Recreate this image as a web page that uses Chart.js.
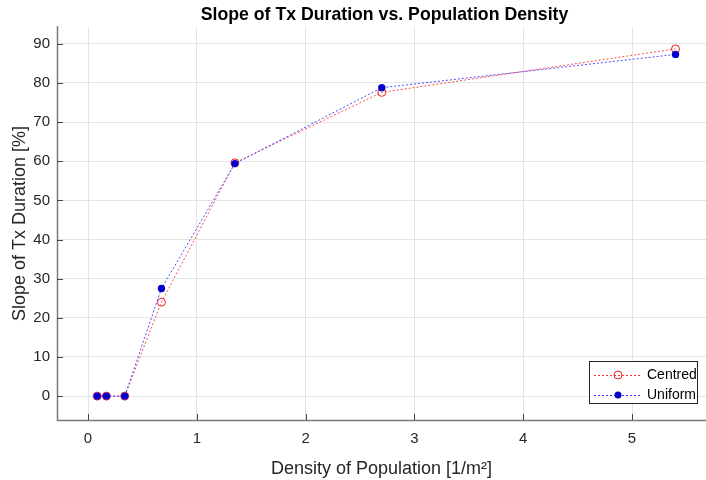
<!DOCTYPE html>
<html>
<head>
<meta charset="utf-8">
<script src="https://cdn.jsdelivr.net/npm/chart.js@4"></script>
<style>
    html, body { margin: 0; padding: 0; background: #ffffff; }
    #contenedor { width: 706px; height: 480px; }
</style>
</head>
<body>
<div id="contenedor"><canvas id="grafico" width="706" height="480"></canvas></div>
<script>
// densidad de poblacion (1/m^2)
const densidades = [0.084375, 0.16875, 0.3375, 0.675, 1.35, 2.7, 5.4];
const pendienteCentrado = [0, 0, 0, 24.0, 59.6, 77.6, 88.7];
const pendienteUniforme = [0, 0, 0, 27.5, 59.4, 78.8, 87.3];
const ticksX = [0, 1, 2, 3, 4, 5];
const ticksY = [0, 10, 20, 30, 40, 50, 60, 70, 80, 90];

const titulo = "Slope of Tx Duration vs. Population Density";
const fuente = "'Liberation Sans', Arial, sans-serif";
const colorEje = "#7a7a7a";

function puntos(valores) {
    return densidades.map((x, i) => ({ x: x, y: valores[i] }));
}

// titulo, marcas interiores y leyenda con recuadro
const extras = {
    id: "extras",
    afterDraw(chart) {
        const ctx = chart.ctx;
        const area = chart.chartArea;
        const sx = chart.scales.x;
        const sy = chart.scales.y;

        ctx.save();
        ctx.fillStyle = "#000000";
        ctx.font = "bold 17.7px " + fuente;
        ctx.textAlign = "center";
        ctx.textBaseline = "middle";
        ctx.fillText(titulo, (area.left + area.right) / 2 + 3, 15);

        ctx.strokeStyle = colorEje;
        ctx.lineWidth = 1.5;
        ctx.beginPath();
        ctx.moveTo(area.left + 0.5, area.top - 1);
        ctx.lineTo(area.left + 0.5, area.bottom + 0.5);
        ctx.lineTo(area.right, area.bottom + 0.5);
        ctx.stroke();

        ctx.strokeStyle = "#444444";
        ctx.lineWidth = 1;
        ctx.beginPath();
        ticksX.forEach(v => {
            const px = Math.round(sx.getPixelForValue(v)) + 0.5;
            ctx.moveTo(px, area.bottom);
            ctx.lineTo(px, area.bottom - 6);
        });
        ticksY.forEach(v => {
            const py = Math.round(sy.getPixelForValue(v)) + 0.5;
            ctx.moveTo(area.left, py);
            ctx.lineTo(area.left + 6, py);
        });
        ctx.stroke();

        // leyenda
        const caja = { x: 589.5, y: 361.5, w: 108, h: 42 };
        ctx.fillStyle = "#ffffff";
        ctx.fillRect(caja.x, caja.y, caja.w, caja.h);
        ctx.strokeStyle = "#262626";
        ctx.strokeRect(caja.x, caja.y, caja.w, caja.h);

        const filas = [
            { texto: "Centred", color: "#ff3333", relleno: false, y: 375 },
            { texto: "Uniform", color: "#3333ff", relleno: true, y: 395 }
        ];
        filas.forEach(f => {
            ctx.strokeStyle = f.color;
            ctx.setLineDash([2, 2]);
            ctx.beginPath();
            ctx.moveTo(594, f.y + 0.5);
            ctx.lineTo(642, f.y + 0.5);
            ctx.stroke();
            ctx.setLineDash([]);
            ctx.beginPath();
            ctx.arc(618, f.y, f.relleno ? 3.5 : 4, 0, Math.PI * 2);
            if (f.relleno) {
                ctx.fillStyle = "#0000cc";
                ctx.fill();
            } else {
                ctx.strokeStyle = "#ee2222";
                ctx.stroke();
            }
            ctx.fillStyle = "#000000";
            ctx.font = "14px " + fuente;
            ctx.textAlign = "left";
            ctx.fillText(f.texto, 647, f.y);
        });
        ctx.restore();
    }
};

new Chart(document.getElementById("grafico"), {
    type: "scatter",
    data: {
        datasets: [
            {
                label: "Centred",
                data: puntos(pendienteCentrado),
                showLine: true,
                borderColor: "rgba(255, 60, 60, 0.9)",
                borderWidth: 1,
                borderDash: [2, 2],
                pointStyle: "circle",
                pointRadius: 4,
                pointBorderWidth: 1,
                pointBorderColor: "#ee2222",
                pointBackgroundColor: "rgba(255,255,255,0)",
                order: 1
            },
            {
                label: "Uniform",
                data: puntos(pendienteUniforme),
                showLine: true,
                borderColor: "rgba(60, 60, 255, 0.9)",
                borderWidth: 1,
                borderDash: [2, 2],
                pointStyle: "circle",
                pointRadius: 3.7,
                pointBorderWidth: 0,
                pointBackgroundColor: "#0000cc",
                order: 0
            }
        ]
    },
    options: {
        responsive: false,
        animation: false,
        layout: {
            autoPadding: false,
            padding: { top: 27, right: 0, bottom: 0, left: 0 }
        },
        plugins: {
            legend: { display: false },
            title: { display: false },
            tooltip: { enabled: false }
        },
        scales: {
            x: {
                type: "linear",
                min: -0.285,
                max: 5.68,
                afterFit: scale => {
                    scale.height = 60;
                    scale.paddingLeft = 0;
                    scale.paddingRight = 0;
                },
                afterBuildTicks: scale => {
                    scale.ticks = ticksX.map(v => ({ value: v }));
                },
                border: { display: false },
                grid: { color: "#e3e3e3", drawTicks: false },
                ticks: {
                    color: "#262626",
                    font: { size: 15, family: fuente },
                    padding: 10,
                    maxRotation: 0
                },
                title: {
                    display: true,
                    text: "Density of Population [1/m²]",
                    color: "#262626",
                    font: { size: 18, family: fuente },
                    padding: { top: 1, bottom: 0 }
                }
            },
            y: {
                type: "linear",
                min: -6.1,
                max: 94.3,
                afterFit: scale => {
                    scale.width = 57;
                    scale.paddingTop = 0;
                    scale.paddingBottom = 0;
                },
                afterBuildTicks: scale => {
                    scale.ticks = ticksY.map(v => ({ value: v }));
                },
                border: { display: false },
                grid: { color: "#e3e3e3", drawTicks: false },
                ticks: {
                    color: "#262626",
                    font: { size: 15, family: fuente },
                    padding: 7
                },
                title: {
                    display: true,
                    text: "Slope of Tx Duration [%]",
                    color: "#262626",
                    font: { size: 18, family: fuente },
                    padding: { top: 9, bottom: 0 }
                }
            }
        }
    },
    plugins: [extras]
});
</script>
</body>
</html>
